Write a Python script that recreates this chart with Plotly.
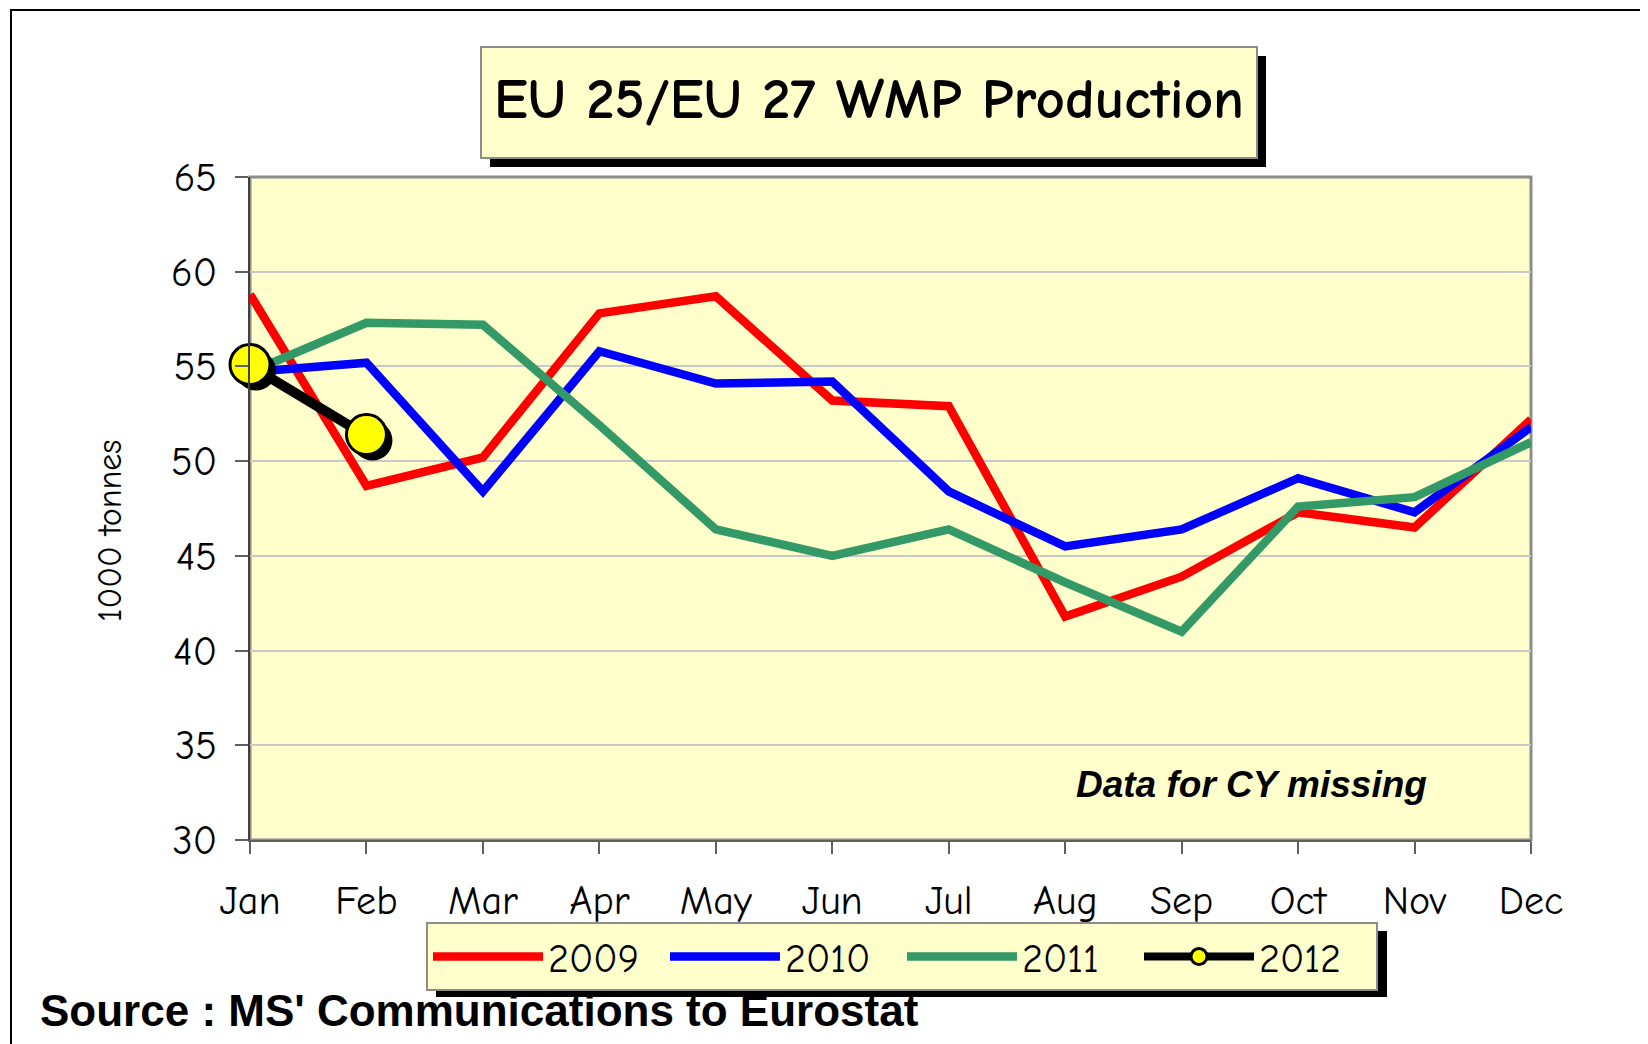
import plotly.graph_objects as go

months = ["Jan", "Feb", "Mar", "Apr", "May", "Jun", "Jul", "Aug", "Sep", "Oct", "Nov", "Dec"]
y2009 = [58.8, 48.7, 50.2, 57.8, 58.7, 53.2, 52.9, 41.8, 43.9, 47.3, 46.5, 52.2]
y2010 = [54.7, 55.2, 48.4, 55.8, 54.1, 54.2, 48.4, 45.5, 46.4, 49.1, 47.3, 51.8]
y2011 = [54.7, 57.3, 57.2, 51.9, 46.4, 45.0, 46.4, 43.6, 41.0, 47.6, 48.1, 51.0]
y2012 = [55.1, 51.4]
ytick_vals = [30, 35, 40, 45, 50, 55, 60, 65]

W, H = 1648, 1044
OFF = 8  # default page body margin
L, R, T, B = 250, 1531, 177, 840  # plot area in screen pixels
PW, PH = R - L, B - T


def px(xp):
    return (xp - L) / PW


def py(yp):
    return (B - yp) / PH


xi = list(range(len(months)))
FONT = "Comic Sans MS, Comic Neue, Noto Sans, sans-serif"

fig = go.Figure()
colors = {"2009": "#FF0000", "2010": "#0000FF", "2011": "#339966"}
for name, vals in [("2009", y2009), ("2010", y2010), ("2011", y2011)]:
    fig.add_trace(go.Scatter(x=xi, y=vals, mode="lines", name=name,
                             line=dict(color=colors[name], width=8.5),
                             cliponaxis=False, hoverinfo="skip"))

# shadow of 2012 series (drawn on slightly shifted overlay axes)
fig.add_trace(go.Scatter(x=xi[:len(y2012)], y=y2012, mode="lines+markers",
                         xaxis="x2", yaxis="y2", showlegend=False,
                         line=dict(color="black", width=8),
                         marker=dict(size=40, color="black"),
                         cliponaxis=False, hoverinfo="skip"))
fig.add_trace(go.Scatter(x=xi[:len(y2012)], y=y2012, mode="lines+markers",
                         xaxis="x3", yaxis="y3", name="2012",
                         line=dict(color="black", width=8),
                         marker=dict(size=40, color="#FFFF00",
                                     line=dict(color="black", width=3)),
                         cliponaxis=False, hoverinfo="skip"))

dx = 6 * 11 / PW
dy = 6 * 35 / PH

LEG_L, LEG_T, LEG_W, LEG_H = 426, 922, 951, 66

shapes = [
    # outer border
    dict(type="rect", xref="paper", yref="paper", x0=px(11), x1=px(1700),
         y0=py(10), y1=py(1100), line=dict(color="black", width=2),
         fillcolor="rgba(0,0,0,0)", layer="below"),
    # title shadow + box
    dict(type="rect", xref="paper", yref="paper", x0=px(490), x1=px(1266),
         y0=py(56), y1=py(167), line=dict(width=0), fillcolor="black"),
    dict(type="rect", xref="paper", yref="paper", x0=px(481), x1=px(1257),
         y0=py(47), y1=py(158), line=dict(color="#8C8C8C", width=2),
         fillcolor="#FFFFCC"),
    # legend shadow
    dict(type="rect", xref="paper", yref="paper", x0=px(LEG_L + 10),
         x1=px(LEG_L + LEG_W + 10), y0=py(LEG_T + 9), y1=py(LEG_T + LEG_H + 9),
         line=dict(width=0), fillcolor="black"),
    # plot border right/top
    dict(type="rect", xref="paper", yref="paper", x0=0, x1=1, y0=0, y1=1,
         line=dict(color="#8C8C8C", width=3), layer="below"),
]

annotations = [
    dict(text="<b>EU 25/EU 27 WMP Production</b>", xref="paper", yref="paper",
         x=px(869), y=py(100), showarrow=False, xanchor="center", yanchor="middle",
         font=dict(family=FONT, size=57, color="black")),
    dict(text="<b><i>Data for CY missing</i></b>", xref="paper", yref="paper",
         x=px(1251), y=py(784), showarrow=False, xanchor="center", yanchor="middle",
         font=dict(family="Liberation Sans, Arial, sans-serif", size=37, color="black")),
    dict(text="1000 tonnes", xref="paper", yref="paper", x=px(110), y=py(531),
         showarrow=False, textangle=-90, xanchor="center", yanchor="middle",
         font=dict(family=FONT, size=34, color="black")),
    dict(text="<b>Source : MS' Communications to Eurostat</b>", xref="paper", yref="paper",
         x=px(38), y=py(1010), showarrow=False, xanchor="left", yanchor="middle",
         font=dict(family="Liberation Sans, Arial, sans-serif", size=44, color="black")),
]

fig.update_layout(
    width=W, height=H,
    margin=dict(l=L - OFF, r=W - (R - OFF), t=T - OFF, b=H - (B - OFF)),
    paper_bgcolor="white", plot_bgcolor="#FFFFCC",
    showlegend=True,
    legend=dict(orientation="h", x=px(LEG_L), y=py(LEG_T), xanchor="left", yanchor="top",
                bgcolor="#FFFFCC", bordercolor="#8C8C8C", borderwidth=2,
                font=dict(family=FONT, size=40, color="black"),
                entrywidth=112, entrywidthmode="pixels", itemwidth=110,
                tracegroupgap=0),
    xaxis=dict(range=[0, 11], tickvals=xi, ticktext=months, showgrid=False,
               zeroline=False, showline=True, linecolor="#606060", linewidth=2,
               ticks="outside", ticklen=12, tickwidth=2, tickcolor="#606060",
               ticklabelstandoff=12,
               tickfont=dict(family=FONT, size=40, color="black")),
    yaxis=dict(range=[30, 65], tickvals=ytick_vals, showgrid=True,
               gridcolor="#C8C8C8", gridwidth=1.5, zeroline=False,
               showline=True, linecolor="#404040", linewidth=2,
               ticks="outside", ticklen=13, tickwidth=2, tickcolor="#606060",
               ticklabelstandoff=10,
               tickfont=dict(family=FONT, size=40, color="black")),
    xaxis2=dict(range=[0 - dx, 11 - dx], overlaying="x", visible=False),
    yaxis2=dict(range=[30 + dy, 65 + dy], overlaying="y", visible=False),
    xaxis3=dict(range=[0, 11], overlaying="x", visible=False),
    yaxis3=dict(range=[30, 65], overlaying="y", visible=False),
    shapes=shapes,
    annotations=annotations,
)

fig.write_html("out.html")
